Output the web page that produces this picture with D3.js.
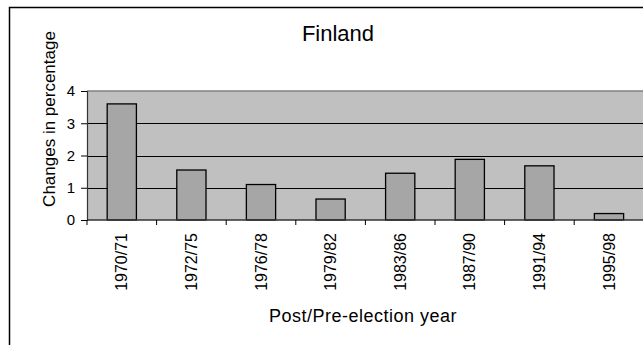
<!DOCTYPE html>
<html>
<head>
<meta charset="utf-8">
<script src="https://cdn.jsdelivr.net/npm/d3@7"></script>
<style>
  html, body { margin: 0; padding: 0; background: #fff; }
  svg { display: block; font-family: "Liberation Sans", Arial, sans-serif; }
</style>
</head>
<body>
<svg id="chart" width="643" height="345"></svg>
<script>
const categories = ["1970/71", "1972/75", "1976/78", "1979/82", "1983/86", "1987/90", "1991/94", "1995/98"];
const values = [3.6, 1.55, 1.1, 0.65, 1.45, 1.88, 1.68, 0.2];
const yTicks = [0, 1, 2, 3, 4];
const title = "Finland";
const yTitle = "Changes in percentage";
const xTitle = "Post/Pre-election year";

const svg = d3.select("#chart");
const W = 643, H = 345;
const plot = { left: 87, right: 643.8, top: 91, bottom: 220 };

// outer chart border (extends beyond the window on right and bottom)
svg.append("rect")
  .attr("x", 9.5).attr("y", 7.5)
  .attr("width", W + 20).attr("height", H + 20)
  .attr("fill", "#fff").attr("stroke", "#000").attr("stroke-width", 1.5);

const x = d3.scaleBand().domain(categories)
  .range([plot.left, plot.right]).paddingInner(0.58).paddingOuter(0.29);
const y = d3.scaleLinear().domain([0, 4]).range([plot.bottom, plot.top]);

// plot background
svg.append("rect")
  .attr("x", plot.left).attr("y", y(4))
  .attr("width", plot.right - plot.left + 5).attr("height", y(0) - y(4))
  .attr("fill", "#c0c0c0");
svg.append("line")
  .attr("x1", plot.left).attr("x2", W + 5)
  .attr("y1", y(4)).attr("y2", y(4))
  .attr("stroke", "#808080").attr("stroke-width", 1.5);

// gridlines
svg.append("g").selectAll("line").data(yTicks.filter(d => d > 0 && d < 4)).join("line")
  .attr("x1", plot.left).attr("x2", W + 5)
  .attr("y1", d => Math.round(y(d)) + 0.5).attr("y2", d => Math.round(y(d)) + 0.5)
  .attr("stroke", "#000").attr("stroke-width", 1);

// bars
svg.append("g").selectAll("rect").data(values).join("rect")
  .attr("x", (d, i) => x(categories[i]))
  .attr("y", d => y(d))
  .attr("width", x.bandwidth())
  .attr("height", d => y(0) - y(d))
  .attr("fill", "#a6a6a6").attr("stroke", "#000").attr("stroke-width", 1.3);

// y axis
const yAxis = d3.axisLeft(y).tickValues(yTicks).tickSize(6).tickPadding(6).tickFormat(d3.format("d"));
const gy = svg.append("g").attr("transform", `translate(${plot.left},0)`).call(yAxis);
gy.select(".domain").attr("stroke", "#333").attr("stroke-width", 1.2);
gy.selectAll(".tick line").attr("stroke", "#000");
gy.selectAll(".tick text").attr("font-size", 15).attr("fill", "#000")
  .attr("font-family", "Liberation Sans, Arial, sans-serif");

// x axis line and ticks at band boundaries
svg.append("line")
  .attr("x1", plot.left).attr("x2", W + 5)
  .attr("y1", plot.bottom).attr("y2", plot.bottom)
  .attr("stroke", "#333").attr("stroke-width", 1.5);
const boundaries = categories.map((c, i) => plot.left + i * x.step());
svg.append("g").selectAll("line").data(boundaries).join("line")
  .attr("x1", d => d).attr("x2", d => d)
  .attr("y1", plot.bottom).attr("y2", plot.bottom + 5)
  .attr("stroke", "#000").attr("stroke-width", 1);

// x tick labels (rotated)
svg.append("g").selectAll("text").data(categories).join("text")
  .attr("transform", d => `translate(${x(d) + x.bandwidth() / 2},233) rotate(-90)`)
  .attr("text-anchor", "end").attr("dy", "0.35em")
  .attr("font-size", 16).attr("fill", "#000")
  .text(d => d);

// title
svg.append("text")
  .attr("x", 338).attr("y", 41).attr("text-anchor", "middle")
  .attr("font-size", 22).attr("fill", "#000").text(title);

// y title
svg.append("text")
  .attr("transform", "translate(55,119) rotate(-90)")
  .attr("text-anchor", "middle")
  .attr("font-size", 17).attr("fill", "#000").text(yTitle);

// x title
svg.append("text")
  .attr("x", 363).attr("y", 322).attr("text-anchor", "middle")
  .attr("font-size", 18).attr("letter-spacing", 0.5).attr("fill", "#000").text(xTitle);
</script>
</body>
</html>
